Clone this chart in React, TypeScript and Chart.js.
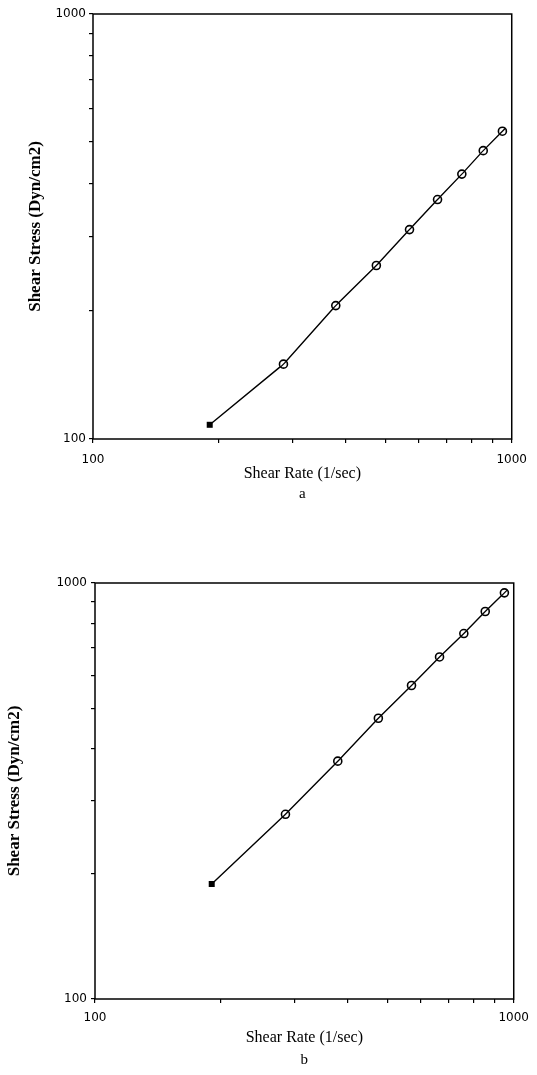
import React, { useEffect, useRef } from "react";
import { Chart, registerables } from "chart.js";

Chart.register(...registerables);

// ---- data ----
const shearRateA = [190, 285, 380, 475, 570, 665, 760, 855, 950];
const shearStressA = [108, 150, 206, 256, 311, 366, 420, 477, 530];
const shearRateB = [190, 285, 380, 475, 570, 665, 760, 855, 950];
const shearStressB = [189, 278, 373, 473, 567, 664, 756, 854, 947];
const axisTicks = [100, 200, 300, 400, 500, 600, 700, 800, 900, 1000];
const labeledTicks = [100, 1000];
const xTitle = "Shear Rate (1/sec)";
const yTitle = "Shear Stress (Dyn/cm2)";

type PanelProps = {
  top: number;
  height: number;
  rates: number[];
  stresses: number[];
  caption: string;
  padTop: number;
  padRight: number;
  padBottom: number;
  yWidth: number;
  xHeight: number;
  yTitlePad: number;
  xTitlePadBottom: number;
  xTickPad: number;
  yTickPad: number;
  captionY: number;
};

function Panel(p: PanelProps) {
  const ref = useRef<HTMLCanvasElement | null>(null);
  useEffect(() => {
    if (!ref.current) return;
    const data = p.rates.map((r, i) => ({ x: r, y: p.stresses[i] }));

    const boxPlugin = {
      id: "box",
      beforeDatasetsDraw(chart: any) {
        const { ctx, chartArea } = chart;
        ctx.save();
        ctx.strokeStyle = "#000";
        ctx.lineWidth = 1.5;
        ctx.strokeRect(
          chartArea.left,
          chartArea.top,
          chartArea.right - chartArea.left,
          chartArea.bottom - chartArea.top
        );
        ctx.restore();
      },
      afterDatasetsDraw(chart: any) {
        const { ctx } = chart;
        const meta = chart.getDatasetMeta(0);
        ctx.save();
        ctx.strokeStyle = "#000";
        ctx.fillStyle = "#000";
        meta.data.forEach((pt: any, i: number) => {
          const x = pt.x;
          const y = pt.y;
          if (i === 0) {
            ctx.fillRect(x - 3, y - 3, 6, 6);
          } else {
            ctx.beginPath();
            ctx.arc(x, y, 4, 0, Math.PI * 2);
            ctx.fillStyle = "#fff";
            ctx.fill();
            ctx.lineWidth = 1.6;
            ctx.stroke();
            ctx.beginPath();
            ctx.moveTo(x - 3, y + 3);
            ctx.lineTo(x + 3, y - 3);
            ctx.lineWidth = 1.3;
            ctx.stroke();
            ctx.fillStyle = "#000";
          }
        });
        ctx.restore();
      },
      afterDraw(chart: any) {
        const { ctx, chartArea } = chart;
        ctx.save();
        ctx.fillStyle = "#000";
        ctx.font = '15px "Liberation Serif"';
        ctx.textAlign = "center";
        ctx.textBaseline = "middle";
        ctx.fillText(p.caption, (chartArea.left + chartArea.right) / 2, p.captionY);
        ctx.restore();
      },
    };

    const tickFont = { family: "DejaVu Sans", size: 12 };
    const grid = {
      display: true,
      drawOnChartArea: false,
      drawTicks: true,
      tickLength: 4,
      color: "#000",
      lineWidth: 1.2,
    };
    const setTicks = (scale: any) => {
      scale.ticks = axisTicks.map((v) => ({ value: v }));
    };
    const labelCb = (v: any) => (labeledTicks.includes(Number(v)) ? String(v) : "");

    const chart = new Chart(ref.current, {
      type: "line",
      data: {
        datasets: [
          {
            data,
            borderColor: "#000",
            borderWidth: 1.4,
            pointRadius: 0,
            fill: false,
            tension: 0,
          },
        ],
      },
      options: {
        animation: false,
        responsive: false,
        events: [],
        layout: {
          padding: { top: p.padTop, right: p.padRight, bottom: p.padBottom, left: 0 },
        },
        plugins: {
          legend: { display: false },
          tooltip: { enabled: false },
        },
        scales: {
          x: {
            type: "logarithmic",
            min: 100,
            max: 1000,
            grid,
            border: { display: false },
            afterBuildTicks: setTicks,
            afterFit: (s: any) => {
              s.height = p.xHeight;
            },
            ticks: {
              autoSkip: false,
              maxRotation: 0,
              color: "#000",
              font: tickFont,
              padding: p.xTickPad,
              callback: labelCb,
            },
            title: {
              display: true,
              text: xTitle,
              color: "#000",
              font: { family: "Liberation Serif", size: 16 },
              padding: { top: 0, bottom: p.xTitlePadBottom },
            },
          },
          y: {
            type: "logarithmic",
            min: 100,
            max: 1000,
            grid,
            border: { display: false },
            afterBuildTicks: setTicks,
            afterFit: (s: any) => {
              s.width = p.yWidth;
            },
            ticks: {
              autoSkip: false,
              color: "#000",
              font: tickFont,
              padding: p.yTickPad,
              callback: labelCb,
            },
            title: {
              display: true,
              text: yTitle,
              color: "#000",
              font: { family: "Liberation Serif", size: 17, weight: "bold" },
              padding: { top: p.yTitlePad, bottom: 0 },
            },
          },
        },
      },
      plugins: [boxPlugin],
    } as any);
    return () => chart.destroy();
  }, []);
  return (
    <canvas
      ref={ref}
      width={537}
      height={p.height}
      style={{ position: "absolute", left: 0, top: p.top, width: 537, height: p.height }}
    />
  );
}

export default function App() {
  return (
    <div
      style={{
        position: "absolute",
        left: 0,
        top: 0,
        width: 537,
        height: 1075,
        background: "#fff",
        overflow: "hidden",
      }}
    >
      <Panel
        top={0}
        height={520}
        rates={shearRateA}
        stresses={shearStressA}
        caption="a"
        padTop={14}
        padRight={23}
        padBottom={31}
        yWidth={93}
        xHeight={50}
        yTitlePad={25}
        xTitlePadBottom={6}
        xTickPad={10}
        yTickPad={3}
        captionY={494}
      />
      <Panel
        top={540}
        height={535}
        rates={shearRateB}
        stresses={shearStressB}
        caption="b"
        padTop={43}
        padRight={20}
        padBottom={26}
        yWidth={95}
        xHeight={50}
        yTitlePad={4}
        xTitlePadBottom={2}
        xTickPad={8}
        yTickPad={4}
        captionY={520}
      />
    </div>
  );
}
